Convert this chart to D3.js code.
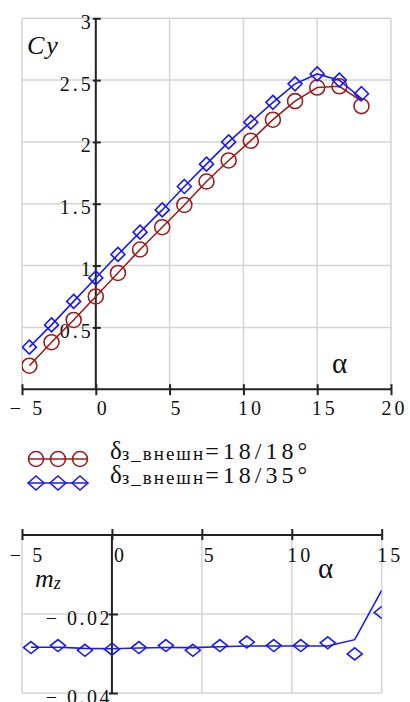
<!DOCTYPE html>
<html>
<head>
<meta charset="utf-8">
<script src="https://cdn.jsdelivr.net/npm/d3@7"></script>
<style>
  html, body { margin: 0; padding: 0; background: #fff; }
  svg { display: block; }
  svg text { font-family: "Liberation Serif", "Times New Roman", "DejaVu Serif", serif; }
</style>
</head>
<body>
<svg id="chart" width="410" height="702"></svg>
<script>
// angle of attack, deg
const alpha = [-4.5, -3, -1.5, 0, 1.5, 3, 4.5, 6, 7.5, 9, 10.5, 12, 13.5, 15, 16.5, 18];

// Cy, flap 18/18 (markers) and the line drawn through them
const cy1818     = [0.19, 0.38, 0.56, 0.75, 0.94, 1.13, 1.31, 1.49, 1.68, 1.85, 2.01, 2.18, 2.33, 2.44, 2.45, 2.29];
const cy1818Line = [0.19, 0.38, 0.56, 0.75, 0.94, 1.13, 1.31, 1.49, 1.68, 1.85, 2.01, 2.18, 2.33, 2.44, 2.45, 2.33];
// Cy, flap 18/35
const cy1835     = [0.34, 0.52, 0.71, 0.90, 1.09, 1.27, 1.45, 1.64, 1.82, 2.00, 2.16, 2.32, 2.47, 2.55, 2.50, 2.39];
const cy1835Line = [0.34, 0.52, 0.71, 0.90, 1.09, 1.27, 1.45, 1.64, 1.82, 2.00, 2.16, 2.32, 2.47, 2.55, 2.50, 2.35];

// mz, flap 18/35 (visible part, alpha up to 15)
const alphaMz = [-4.5, -3, -1.5, 0, 1.5, 3, 4.5, 6, 7.5, 9, 10.5, 12, 13.5, 15];
const mzMarks = [-0.0285, -0.0280, -0.0292, -0.0289, -0.0285, -0.0280, -0.0292, -0.0280, -0.0271, -0.0280, -0.0280, -0.0273, -0.0301, -0.0196];
const mzLine  = [-0.0284, -0.0284, -0.0287, -0.0288, -0.0286, -0.0285, -0.0285, -0.0283, -0.0281, -0.0281, -0.0281, -0.0281, -0.0265, -0.0140];

const cyXTicks = [-5, 0, 5, 10, 15, 20];
const cyYTicks = [0.5, 1, 1.5, 2, 2.5, 3];
const mzXTicks = [-5, 0, 5, 10, 15];
const mzYTicks = [-0.02, -0.04];

const legendLabels = ['=18/18°', '=18/35°'];

const RED = '#9e1c1c', BLUE = '#1a1af5', GRID = '#d4d4d4', AXIS = '#222';

const svg = d3.select('#chart');
const fmt = d => d < 0 ? '\u2212 ' + Math.abs(d) : String(d);

function diamond(w, h) { return `M0,${-h}L${w},0L0,${h}L${-w},0Z`; }

// axis styling shared by both charts (d3 sets its own font-family on the axis group)
function styleAxis(a, spacing) {
  a.attr('font-family', null);
  a.select('.domain').attr('stroke', AXIS).attr('stroke-width', 2);
  a.selectAll('.tick line').attr('stroke', AXIS).attr('stroke-width', 2);
  a.selectAll('text').attr('font-size', 20).attr('letter-spacing', spacing + 'px').attr('fill', '#111');
}

// ---------- Cy chart ----------
const x1 = d3.scaleLinear().domain([-5, 20]).range([22, 391]);
const y1 = d3.scaleLinear().domain([0, 3]).range([389.2, 18.3]);
const gTop = svg.append('g');

// grid
gTop.append('g').selectAll('line').data(cyXTicks).join('line')
  .attr('x1', d => x1(d)).attr('x2', d => x1(d))
  .attr('y1', y1(0)).attr('y2', y1(3))
  .attr('stroke', GRID).attr('stroke-width', 1.5);
gTop.append('g').selectAll('line').data(cyYTicks).join('line')
  .attr('x1', x1(-5)).attr('x2', x1(20))
  .attr('y1', d => y1(d)).attr('y2', d => y1(d))
  .attr('stroke', GRID).attr('stroke-width', 1.5);

gTop.append('defs').append('clipPath').attr('id', 'clipTop')
  .append('rect').attr('x', x1(-5)).attr('y', y1(3) - 10)
  .attr('width', x1(20) - x1(-5)).attr('height', y1(0) - y1(3) + 10);

// axes
const xAx1 = gTop.append('g').attr('transform', `translate(0,${y1(0)})`)
  .call(d3.axisBottom(x1).tickValues(cyXTicks).tickFormat(fmt).tickSize(6).tickSizeOuter(0));
const yAx1 = gTop.append('g').attr('transform', `translate(${x1(0)},0)`)
  .call(d3.axisLeft(y1).tickValues(cyYTicks).tickFormat(fmt).tickSize(-5).tickSizeOuter(0));
styleAxis(xAx1, 3);
styleAxis(yAx1, 3);
xAx1.select('.domain').attr('d', `M${x1(-5)},0H${x1(20)}`);
yAx1.select('.domain').attr('d', `M0,${y1(3)}V${y1(0)}`);
xAx1.selectAll('.tick line').attr('y1', -5).attr('y2', 6);
xAx1.selectAll('.tick text').attr('y', 26).attr('dy', null)
  .attr('dx', d => d < 0 ? 5 : (d === 20 ? 3 : 7));
yAx1.selectAll('.tick line').attr('x1', -3).attr('x2', 5);
yAx1.selectAll('.tick text').attr('x', -2).attr('dy', 10);

// series
const plot1 = gTop.append('g').attr('clip-path', 'url(#clipTop)');
const line1 = d3.line().x((d, i) => x1(alpha[i])).y(d => y1(d));

plot1.append('path').datum(cy1818Line).attr('d', line1)
  .attr('fill', 'none').attr('stroke', RED).attr('stroke-width', 1.6);
plot1.append('g').selectAll('circle').data(cy1818).join('circle')
  .attr('cx', (d, i) => x1(alpha[i])).attr('cy', d => y1(d)).attr('r', 7.5)
  .attr('fill', 'none').attr('stroke', RED).attr('stroke-width', 1.6);

plot1.append('path').datum(cy1835Line).attr('d', line1)
  .attr('fill', 'none').attr('stroke', BLUE).attr('stroke-width', 1.6);
plot1.append('g').selectAll('path').data(cy1835).join('path')
  .attr('transform', (d, i) => `translate(${x1(alpha[i])},${y1(d)})`)
  .attr('d', diamond(7, 7))
  .attr('fill', 'none').attr('stroke', BLUE).attr('stroke-width', 1.6);

// axis titles
gTop.append('text').attr('x', 27).attr('y', 54)
  .attr('font-style', 'italic').attr('font-size', 26).attr('letter-spacing', '2px')
  .attr('fill', '#111').text('Cy');
gTop.append('text').attr('x', 332).attr('y', 373)
  .attr('font-size', 29).attr('fill', '#111').text('α');

// ---------- legend ----------
const lg = svg.append('g');
const legY = [459, 483];
const symX = [36, 58, 80];

lg.append('line').attr('x1', 28).attr('x2', 88).attr('y1', legY[0]).attr('y2', legY[0])
  .attr('stroke', RED).attr('stroke-width', 1.6);
lg.append('g').selectAll('circle').data(symX).join('circle')
  .attr('cx', d => d).attr('cy', legY[0]).attr('r', 7.5)
  .attr('fill', 'none').attr('stroke', RED).attr('stroke-width', 1.6);

lg.append('line').attr('x1', 28).attr('x2', 88).attr('y1', legY[1]).attr('y2', legY[1])
  .attr('stroke', BLUE).attr('stroke-width', 1.6);
lg.append('g').selectAll('path').data(symX).join('path')
  .attr('transform', d => `translate(${d},${legY[1]})`)
  .attr('d', diamond(8, 7))
  .attr('fill', 'none').attr('stroke', BLUE).attr('stroke-width', 1.6);

legendLabels.forEach((lab, i) => {
  const t = lg.append('text').attr('x', 110).attr('y', legY[i]).attr('fill', '#111');
  t.append('tspan').attr('font-size', 25).text('δ');
  t.append('tspan').attr('font-size', 19).attr('letter-spacing', '2px').attr('dy', 1).text('з_внешн');
  t.append('tspan').attr('font-size', 24).attr('letter-spacing', '4px').attr('dy', -1).text(lab);
});

// ---------- mz chart ----------
const x2 = d3.scaleLinear().domain([-5, 15]).range([22, 381.7]);
const y2 = d3.scaleLinear().domain([-0.04, 0]).range([693, 535]);
const gBot = svg.append('g');

gBot.append('g').selectAll('line').data(mzXTicks).join('line')
  .attr('x1', d => x2(d)).attr('x2', d => x2(d))
  .attr('y1', y2(0)).attr('y2', y2(-0.04))
  .attr('stroke', GRID).attr('stroke-width', 1.5);
gBot.append('g').selectAll('line').data(mzYTicks).join('line')
  .attr('x1', x2(-5)).attr('x2', x2(15))
  .attr('y1', d => y2(d)).attr('y2', d => y2(d))
  .attr('stroke', GRID).attr('stroke-width', 1.5);

gBot.append('defs').append('clipPath').attr('id', 'clipBot')
  .append('rect').attr('x', x2(-5)).attr('y', y2(0))
  .attr('width', x2(15) - x2(-5)).attr('height', y2(-0.04) - y2(0));

const xAx2 = gBot.append('g').attr('transform', `translate(0,${y2(0)})`)
  .call(d3.axisBottom(x2).tickValues(mzXTicks).tickFormat(fmt).tickSize(6).tickSizeOuter(0));
const yAx2 = gBot.append('g').attr('transform', `translate(${x2(0)},0)`)
  .call(d3.axisLeft(y2).tickValues(mzYTicks).tickFormat(fmt).tickSize(-5).tickSizeOuter(0));
styleAxis(xAx2, 3);
styleAxis(yAx2, 2.5);
xAx2.select('.domain').attr('d', `M${x2(-5)},0H${x2(15)}`);
yAx2.select('.domain').attr('d', `M0,${y2(0)}V${y2(-0.04)}`);
xAx2.selectAll('.tick line').attr('y1', -6).attr('y2', 5);
xAx2.selectAll('.tick text').attr('y', 27).attr('dy', null).attr('dx', d => d < 0 ? 5 : 8);
yAx2.selectAll('.tick line').attr('x1', -3).attr('x2', 6);
yAx2.selectAll('.tick text').attr('x', 0).attr('dy', 10);

const plot2 = gBot.append('g').attr('clip-path', 'url(#clipBot)');
plot2.append('path').datum(mzLine)
  .attr('d', d3.line().x((d, i) => x2(alphaMz[i])).y(d => y2(d)))
  .attr('fill', 'none').attr('stroke', BLUE).attr('stroke-width', 1.6);
plot2.append('g').selectAll('path').data(mzMarks).join('path')
  .attr('transform', (d, i) => `translate(${x2(alphaMz[i])},${y2(d)})`)
  .attr('d', diamond(7.5, 6))
  .attr('fill', 'none').attr('stroke', BLUE).attr('stroke-width', 1.6);

const mz = gBot.append('text').attr('x', 35).attr('y', 587)
  .attr('font-style', 'italic').attr('font-size', 26).attr('fill', '#111');
mz.append('tspan').text('m');
mz.append('tspan').attr('font-size', 18).attr('dy', 2).text('z');
gBot.append('text').attr('x', 318).attr('y', 578)
  .attr('font-size', 29).attr('fill', '#111').text('α');
</script>
</body>
</html>
